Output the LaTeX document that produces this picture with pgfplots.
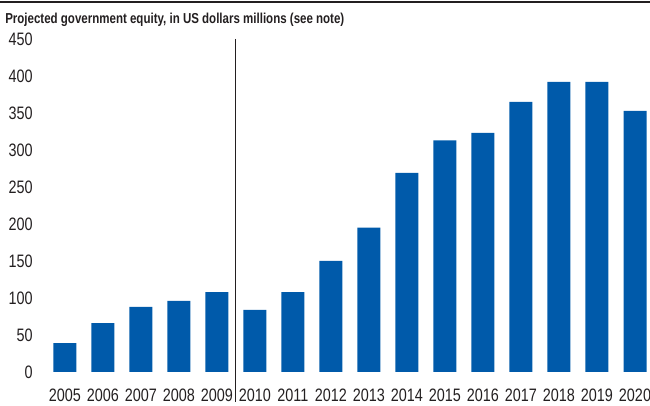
\documentclass[border=0pt]{standalone}
\usepackage{pgfplots}
\pgfplotsset{compat=1.18}
\usepackage{fontspec}
\setmainfont{Liberation Sans}[FakeStretch=0.8]
\definecolor{barblue}{RGB}{0,90,170}
\definecolor{txt}{RGB}{35,31,32}

\begin{document}
\begin{tikzpicture}[x=0.75pt,y=0.75pt]
\begin{axis}[
    at={(0,0)}, anchor=south west,
    scale only axis,
    width=453.3pt, height=249.75pt,
    ybar, bar width=17.25pt,
    xmin=2004.4, xmax=2020.3,
    ymin=0, ymax=450,
    ytick={0,50,...,450},
    xtick=data,
    axis line style={draw=none},
    tick style={draw=none},
    major tick length=0pt,
    clip=false,
    /pgf/number format/assume math mode=true,
    x tick label style={/pgf/number format/1000 sep={}, anchor=base, yshift=-22.5pt},
    tick label style={font=\fontsize{13.5}{15}\selectfont, text=txt},
    y tick label style={anchor=east, xshift=-3.5pt},
]
\addplot[fill=barblue, draw=none] coordinates {
    (2005,39) (2006,66) (2007,88) (2008,96) (2009,108)
    (2010,84) (2011,108) (2012,150) (2013,195) (2014,269)
    (2015,313) (2016,323) (2017,365) (2018,392) (2019,392)
    (2020,353)
};
\draw[txt, line width=0.75pt] (axis cs:2009.5,450) -- (axis cs:2009.5,-40.5);
\end{axis}
\draw[txt, line width=1.2pt] (-42,370) -- (608,370);
\node[anchor=base west, inner sep=0, text=txt, font=\bfseries\fontsize{10.8}{12}\selectfont] at (-37,348) {Projected government equity, in US dollars millions (see note)};
\pgfresetboundingbox
\useasboundingbox (-42,-34) rectangle (608,372);
\end{tikzpicture}
\end{document}
